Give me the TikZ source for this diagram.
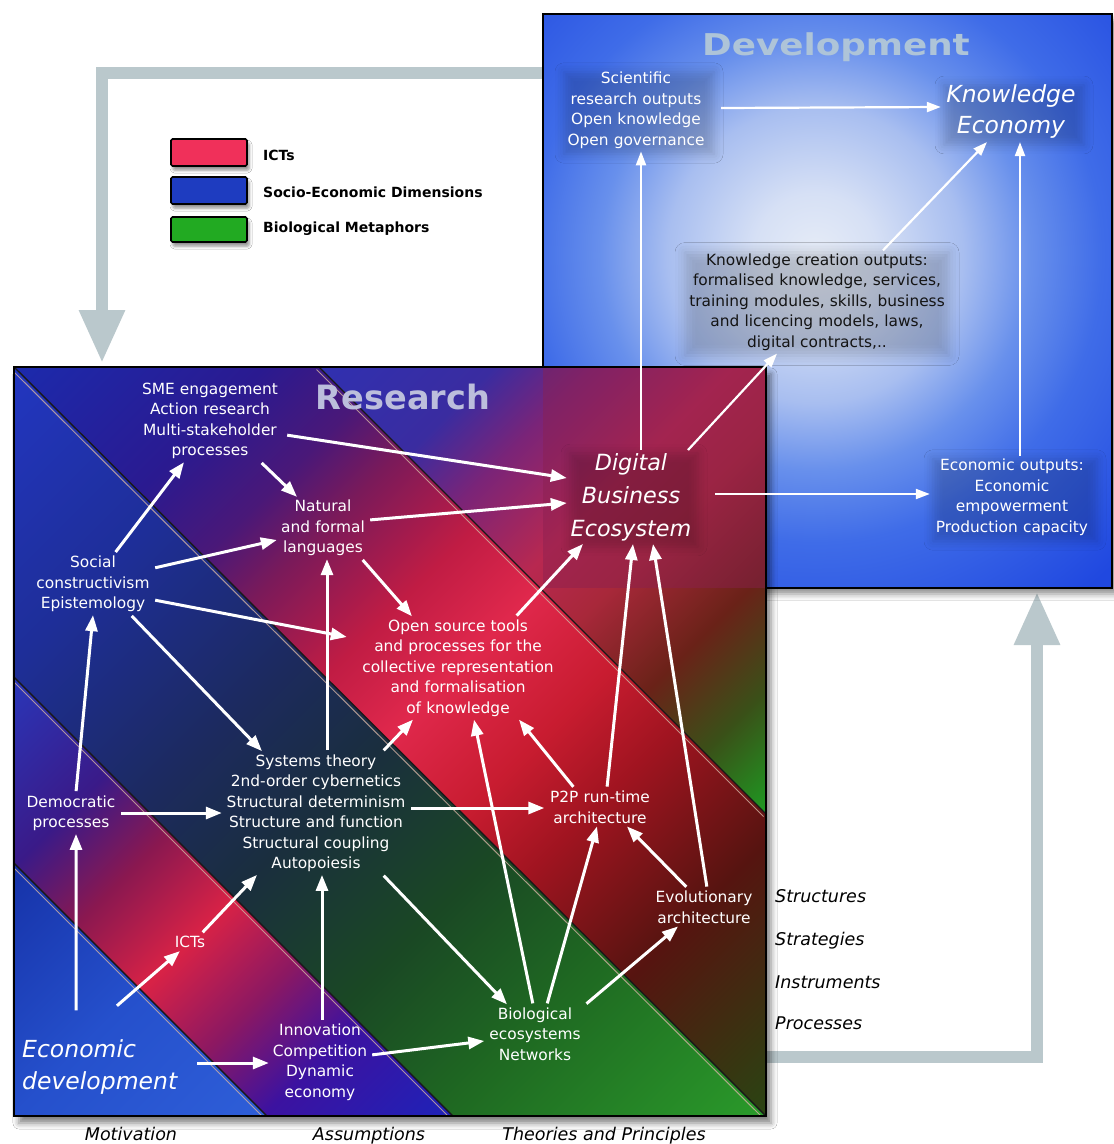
\documentclass[tikz,border=0pt]{standalone}
\usepackage{fontspec}
\usepackage{graphicx}
\setmainfont{DejaVu Sans}
\usetikzlibrary{arrows.meta,shadows.blur}

\definecolor{grayarr}{HTML}{BAC8CC}
\definecolor{gA}{HTML}{E6ECF7}
\definecolor{gB}{HTML}{D6E0F5}
\definecolor{gC}{HTML}{A8BEF0}
\definecolor{gD}{HTML}{6890EC}
\definecolor{gE}{HTML}{3F6CE8}
\definecolor{gF}{HTML}{2048E0}
\pgfdeclareradialshading{devglow}{\pgfpoint{0bp}{0bp}}{color(0bp)=(gA); color(3.6bp)=(gB); color(8.6bp)=(gC); color(12.5bp)=(gD); color(16.7bp)=(gE); color(25bp)=(gF); color(50bp)=(gF)}

% band E (above upper line)
\definecolor{shEA}{HTML}{3030B0}
\definecolor{shEB}{HTML}{3A2CA0}
\definecolor{shEC}{HTML}{7A2478}
\definecolor{shED}{HTML}{B82850}
\definecolor{shEE}{HTML}{A8283A}
\definecolor{shEF}{HTML}{6A2218}
\definecolor{shEG}{HTML}{3A5018}
\definecolor{shEH}{HTML}{1E9A22}
\pgfdeclarehorizontalshading{bandE}{100bp}{color(0bp)=(shEA); color(29bp)=(shEA); color(37.2bp)=(shEB); color(41.9bp)=(shEC); color(48.5bp)=(shED); color(53.2bp)=(shEE); color(59.8bp)=(shEF); color(65.4bp)=(shEG); color(71.2bp)=(shEH); color(100bp)=(shEH)}
% band D
\definecolor{shDA}{HTML}{1C2AAC}
\definecolor{shDB}{HTML}{2A1A90}
\definecolor{shDC}{HTML}{4A1878}
\definecolor{shDD}{HTML}{7A1A5A}
\definecolor{shDE}{HTML}{C01C44}
\definecolor{shDF}{HTML}{E0284C}
\definecolor{shDG}{HTML}{C81C30}
\definecolor{shDH}{HTML}{A01420}
\definecolor{shDI}{HTML}{561410}
\definecolor{shDJ}{HTML}{2A4412}
\pgfdeclarehorizontalshading{bandD}{100bp}{color(0bp)=(shDA); color(14.6bp)=(shDA); color(26.3bp)=(shDB); color(32.5bp)=(shDC); color(36.7bp)=(shDD); color(43.8bp)=(shDE); color(49.7bp)=(shDF); color(57bp)=(shDG); color(62.9bp)=(shDH); color(72.6bp)=(shDI); color(85.4bp)=(shDJ); color(100bp)=(shDJ)}
% band C
\definecolor{shCA}{HTML}{2236C0}
\definecolor{shCB}{HTML}{1E2E98}
\definecolor{shCC}{HTML}{1C2A5E}
\definecolor{shCD}{HTML}{1A2E3E}
\definecolor{shCE}{HTML}{1A4824}
\definecolor{shCF}{HTML}{1F6A22}
\definecolor{shCG}{HTML}{2A9A2A}
\pgfdeclarehorizontalshading{bandC}{100bp}{color(0bp)=(shCA); color(14.6bp)=(shCA); color(28.5bp)=(shCB); color(41.4bp)=(shCC); color(49.8bp)=(shCD); color(60.3bp)=(shCE); color(70.5bp)=(shCF); color(85.4bp)=(shCG); color(100bp)=(shCG)}
% band B
\definecolor{shBA}{HTML}{2A36B8}
\definecolor{shBB}{HTML}{3A1A88}
\definecolor{shBC}{HTML}{8A1850}
\definecolor{shBD}{HTML}{D82246}
\definecolor{shBE}{HTML}{8C1862}
\definecolor{shBF}{HTML}{3C12A0}
\definecolor{shBG}{HTML}{1E22B8}
\pgfdeclarehorizontalshading{bandB}{100bp}{color(0bp)=(shBA); color(29.2bp)=(shBA); color(38.1bp)=(shBB); color(43.8bp)=(shBC); color(50bp)=(shBD); color(56bp)=(shBE); color(61.7bp)=(shBF); color(70.6bp)=(shBG); color(100bp)=(shBG)}
% band A
\definecolor{shAA}{HTML}{1632A8}
\definecolor{shAB}{HTML}{2550CC}
\definecolor{shAC}{HTML}{2E5ED8}
\pgfdeclarehorizontalshading{bandA}{100bp}{color(0bp)=(shAA); color(38bp)=(shAA); color(49.9bp)=(shAB); color(61.8bp)=(shAC); color(100bp)=(shAC)}

\definecolor{tintc}{HTML}{8A2050}
\definecolor{devtitle}{HTML}{AEC4D8}
\definecolor{restitle}{HTML}{BCBEDC}
\definecolor{legred}{HTML}{F0305A}
\definecolor{legblue}{HTML}{1E3CC0}
\definecolor{leggreen}{HTML}{22AA22}
\definecolor{bandlight}{HTML}{D0B0A0}

\newcommand\mysmall{\fontsize{15.4}{20.5}\selectfont}
\newcommand\mydbe{\fontsize{22.3}{33}\selectfont\itshape}
\newcommand\myke{\fontsize{23.5}{31}\selectfont\itshape}
\newcommand\myeco{\fontsize{23.5}{32}\selectfont\itshape}
\newcommand\mylab{\fontsize{17.5}{20}\selectfont\itshape}
\newcommand\myleg{\fontsize{14}{16}\selectfont\bfseries}

\begin{document}
\begin{tikzpicture}[x=1pt,y=-1pt,
  arr/.style={draw=white, line width=3pt, -{Triangle[length=16pt,width=12pt]}, shorten <=1pt},
  darr/.style={draw=white, line width=2.2pt, -{Triangle[length=14pt,width=10pt]}},
  txt/.style={text=white, align=center, inner sep=3pt, font=\mysmall},
  glow/.style={blur shadow={shadow xshift=3pt, shadow yshift=-3pt, shadow blur radius=9pt, shadow opacity=18}},
  legbox/.style={draw=black, line width=1.6pt, rounded corners=1.5pt, minimum width=76pt, minimum height=27pt, inner sep=0pt,
     blur shadow={shadow xshift=2pt, shadow yshift=-4pt, shadow blur radius=3pt, shadow opacity=45}},
  legtxt/.style={anchor=west, inner sep=0pt, font=\myleg, text=black},
  sidelab/.style={anchor=base west, inner sep=0pt, font=\mylab, text=black},
  botlab/.style={anchor=base, inner sep=0pt, font=\mylab, text=black},
  grayarrow/.style={draw=grayarr, line width=12pt, line join=miter, -{Triangle[length=53pt,width=43pt]}},
  darkline/.style={draw=black!90, line width=1.4pt},
  lightline/.style={draw=bandlight, line width=1pt, opacity=0.8}
]
\fill[white] (0,0) rectangle (1114,1144);
\useasboundingbox (0,0) rectangle (1114,1144);

% grey feedback arrows
\draw[grayarrow] (548,73) -- (102,73) -- (102,363);
\draw[grayarrow] (760,1057) -- (1037,1057) -- (1037,592);

% Development box
\path[fill=gF, blur shadow={shadow xshift=5pt, shadow yshift=-6pt, shadow blur radius=6pt, shadow opacity=45}] (543,14) rectangle (1112,588);
\begin{scope}
  \clip (543,14) rectangle (1112,588);
  \shade[shading=devglow] (815,255) circle (430);
\end{scope}
\draw[black, line width=1.3pt] (543,14) rectangle (1112,588);
\node[inner sep=0pt, text=devtitle, font=\fontsize{30}{34}\selectfont\bfseries] (devt) at (836,47) {\scalebox{1.19}[1]{Development}};

% Research box
\path[fill=black, blur shadow={shadow xshift=5pt, shadow yshift=-7pt, shadow blur radius=6pt, shadow opacity=50}] (14,367) rectangle (766,1116);
\begin{scope}
  \clip (319,367) -- (766,367) -- (766,814) -- cycle;
  \shade[shading=bandE, shading angle=-45] (14,367) rectangle (766,1116);
\end{scope}
\begin{scope}
  \clip (14,367) -- (319,367) -- (766,814) -- (766,1116) -- cycle;
  \shade[shading=bandD, shading angle=-45] (14,367) rectangle (766,1116);
\end{scope}
\begin{scope}
  \clip (14,367) -- (766,1116) -- (453,1116) -- (14,677) -- cycle;
  \shade[shading=bandC, shading angle=-45] (14,367) rectangle (766,1116);
\end{scope}
\begin{scope}
  \clip (14,677) -- (453,1116) -- (267,1116) -- (14,863) -- cycle;
  \shade[shading=bandB, shading angle=-45] (14,367) rectangle (766,1116);
\end{scope}
\begin{scope}
  \clip (14,863) -- (267,1116) -- (14,1116) -- cycle;
  \shade[shading=bandA, shading angle=-45] (14,367) rectangle (766,1116);
\end{scope}
\begin{scope}
  \clip (14,367) rectangle (766,1116);
  \draw[lightline] (11.5,369.5) -- (763.5,1118.5);
  \draw[darkline] (14,367) -- (766,1116);
  \draw[lightline] (316.5,369.5) -- (763.5,816.5);
  \draw[darkline] (319,367) -- (766,814);
  \draw[lightline] (11.5,679.5) -- (450.5,1118.5);
  \draw[darkline] (14,677) -- (453,1116);
  \draw[lightline] (11.5,865.5) -- (264.5,1118.5);
  \draw[darkline] (14,863) -- (267,1116);
\end{scope}
% overlap tint
\fill[tintc, opacity=0.45] (543,367) rectangle (766,588);
\draw[black, line width=1.6pt] (14,367) rectangle (766,1116);
\node[inner sep=0pt, text=restitle, font=\fontsize{33.5}{36}\selectfont\bfseries] (rest) at (403,397) {Research};

% Development texts
\node[txt, glow, text width=144pt] (sci) at (636,110) {Scientific\\research outputs\\Open knowledge\\Open governance};
\node[txt, glow, text width=134pt, font=\myke] (ke) at (1011,112) {Knowledge\\Economy};
\node[txt, text=black!92, text width=258pt, blur shadow={shadow xshift=0pt, shadow yshift=-2pt, shadow blur radius=10pt, shadow opacity=18}] (kco) at (817,302) {Knowledge creation outputs:\\formalised knowledge, services,\\training modules, skills, business\\and licencing models, laws,\\digital contracts,..};
\node[txt, glow, text width=158pt] (ecout) at (1012,497) {Economic outputs:\\Economic\\empowerment\\Production capacity};

% Research texts
\node[txt, glow, text width=122pt, font=\mydbe] (dbe) at (631,497) {Digital\\Business\\Ecosystem};
\node[txt, text width=146pt] (sme) at (210,421) {SME engagement\\Action research\\Multi-stakeholder\\processes};
\node[txt, text width=86pt] (nat) at (323,528) {Natural\\and formal\\languages};
\node[txt, text width=116pt] (soc) at (93,584) {Social\\constructivism\\Epistemology};
\node[txt, text width=196pt] (opn) at (458,668) {Open source tools\\and processes for the\\collective representation\\and formalisation\\of knowledge};
\node[txt, text width=182pt] (sys) at (316,813) {Systems theory\\2nd-order cybernetics\\Structural determinism\\Structure and function\\Structural coupling\\Autopoiesis};
\node[txt, text width=92pt] (dem) at (71,813) {Democratic\\processes};
\node[txt, text width=105pt] (p2p) at (600,807) {P2P run-time\\architecture};
\node[txt, text width=102pt] (evo) at (704,907) {Evolutionary\\architecture};
\node[txt, text width=40pt] (icts) at (190,942) {ICTs};
\node[txt, text width=95pt] (bio) at (535,1034) {Biological\\ecosystems\\Networks};
\node[txt, text width=96pt] (inn) at (320,1062) {Innovation\\Competition\\Dynamic\\economy};
\node[txt, text width=158pt, align=left, font=\myeco, anchor=west] (eco) at (19,1067) {Economic\\development};

% Research arrows
\draw[arr] ([xshift=22pt]soc.north) -- ([xshift=-26pt]sme.south);
\draw[arr] ([yshift=-14pt]sme.east) -- ([yshift=19pt]dbe.west);
\draw[arr] ([xshift=51pt]sme.south) -- ([xshift=-26pt]nat.north);
\draw[arr] ([yshift=16pt]soc.east) -- ([yshift=-12pt]nat.west);
\draw[arr] ([yshift=8pt]nat.east) -- ([yshift=-6pt]dbe.west);
\draw[arr] ([xshift=39pt]nat.south) -- ([xshift=-46pt]opn.north);
\draw[arr] ([yshift=-16pt]soc.east) -- ([xshift=-10pt,yshift=31pt]opn.west);
\draw[arr] ([xshift=38pt]soc.south) -- ([xshift=-54pt]sys.north);
\draw[arr] ([xshift=11pt]sys.north) -- ([xshift=4pt]nat.south);
\draw[arr] ([xshift=67pt]sys.north) -- ([xshift=-45pt]opn.south);
\draw[arr] ([xshift=5pt]dem.north) -- (soc.south);
\draw[arr] ([xshift=-25pt,yshift=25pt]eco.north) -- ([xshift=5pt]dem.south);
\draw[arr] ([xshift=15pt,yshift=30pt]eco.north) -- ([xshift=-10pt]icts.south);
\draw[arr] ([xshift=12pt]icts.north) -- ([xshift=-59pt]sys.south);
\draw[arr] (dem.east) -- (sys.west);
\draw[arr] ([xshift=13pt,yshift=4pt]eco.east) -- ([yshift=-1pt]inn.west);
\draw[arr] ([xshift=2pt]inn.north) -- ([xshift=6pt]sys.south);
\draw[arr] ([yshift=7pt]inn.east) -- ([yshift=-7pt]bio.west);
\draw[arr] ([xshift=67pt]sys.south) -- ([xshift=-28pt]bio.north);
\draw[arr] ([yshift=5pt]sys.east) -- ([yshift=-1pt]p2p.west);
\draw[arr] ([xshift=-2pt]bio.north) -- ([xshift=16pt]opn.south);
\draw[arr] ([xshift=12pt]bio.north) -- ([xshift=-3pt]p2p.south);
\draw[arr] (bio.north east) -- ([xshift=-26pt]evo.south);
\draw[arr] ([xshift=-26pt]p2p.north) -- ([xshift=61pt]opn.south);
\draw[arr] ([xshift=7pt]p2p.north) -- ([xshift=2pt]dbe.south);
\draw[arr] ([xshift=-17pt]evo.north) -- ([xshift=27pt]p2p.south);
\draw[arr] ([xshift=3pt]evo.north) -- ([xshift=22pt]dbe.south);
\draw[arr] ([xshift=58pt]opn.north) -- ([xshift=-48pt]dbe.south);

% Development arrows
\draw[darr] ([xshift=10pt]dbe.north) -- ([xshift=5pt]sci.south);
\draw[darr] ([xshift=10pt,yshift=2pt]sci.east) -- ([yshift=5pt]ke.west);
\draw[darr] ([xshift=57pt]dbe.north) -- ([xshift=-40pt]kco.south);
\draw[darr] ([xshift=66pt]kco.north) -- ([xshift=-24pt]ke.south);
\draw[darr] ([xshift=20pt,yshift=3pt]dbe.east) -- ([yshift=3pt]ecout.west);
\draw[darr] ([xshift=8pt]ecout.north) -- ([xshift=9pt]ke.south);

% Legend
\node[legbox, fill=legred] (lg1) at (209,152.5) {};
\node[legbox, fill=legblue] (lg2) at (209,190.5) {};
\node[legbox, fill=leggreen, minimum height=25pt] (lg3) at (209,229.5) {};
\node[legtxt] (lt1) at (263,155) {ICTs};
\node[legtxt] (lt2) at (263,192) {Socio-Economic Dimensions};
\node[legtxt] (lt3) at (263,229) {Biological Metaphors};

% Side labels
\node[sidelab] (s1) at (775,902) {Structures};
\node[sidelab] (s2) at (775,945) {Strategies};
\node[sidelab] (s3) at (775,988) {Instruments};
\node[sidelab] (s4) at (775,1029) {Processes};

% Bottom labels
\node[botlab] (b1) at (131,1140) {Motivation};
\node[botlab] (b2) at (369,1140) {Assumptions};
\node[botlab] (b3) at (604,1140) {Theories and Principles};
\end{tikzpicture}
\end{document}
